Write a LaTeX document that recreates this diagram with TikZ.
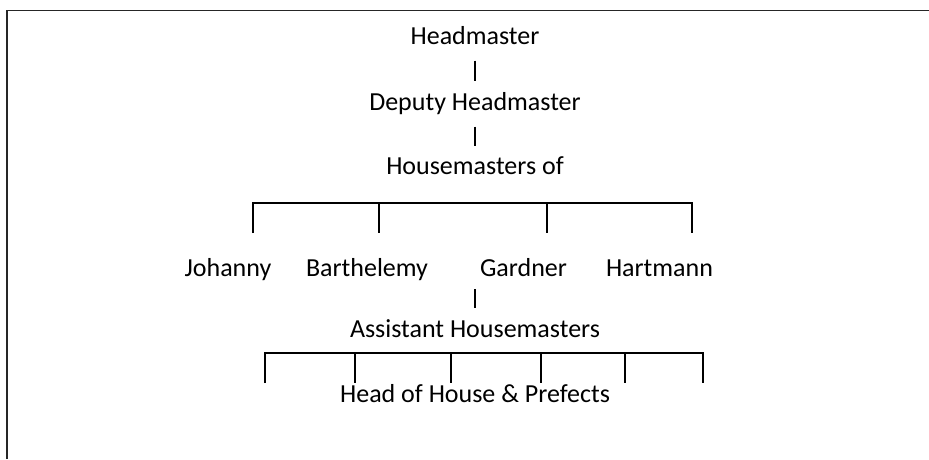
\documentclass[tikz,border=0pt]{standalone}
\usepackage{fontspec}
\setmainfont{Carlito}
\usepackage{tikz}
\usetikzlibrary{calc}

\begin{document}
\begin{tikzpicture}[x=1pt,y=-1pt,font=\fontsize{26}{30}\selectfont]
		\tikzstyle{post}=[inner sep=0pt,text height=19.5pt,text depth=6.5pt];
		\tikzstyle{vbar}=[line width=1.3pt,shorten <=10pt,shorten >=9.5pt];
		\tikzstyle{bracket}=[line width=1.4pt];
		\useasboundingbox(0,0)rectangle(929,459);
		\draw[black!85,line width=1.6pt](7,459)--(7,10.5)--(929,10.5);

		\node[post](head) at (475,37.5){Headmaster};
		\node[post,node distance=66pt,below of=head](deputy){Deputy Headmaster};
		\node[post,node distance=64pt,below of=deputy](hmof){Housemasters of};
		\draw[vbar](head)--(deputy);
		\draw[vbar,shorten >=8.5pt](deputy)--(hmof);

		\node[post](gardner) at (523.5,270){Gardner};
		\node[post,node distance=156.5pt,left of=gardner](barth){Barthelemy};
		\node[post,node distance=139pt,left of=barth](johanny){Johanny};
		\node[post,node distance=136pt,right of=gardner](hartmann){Hartmann};

		\coordinate(hm-l) at (253,233);
		\coordinate(hm-r) at (692,233);
		\draw[bracket](hm-l)--++(0,-30)-|(hm-r);
		\foreach \x in {379,547} \draw[bracket](\x,203)--(\x,233);

		\node[post,node distance=163pt,below of=hmof](assist){Assistant Housemasters};
		\draw[vbar,shorten <=6pt,shorten >=9pt](gardner.south-|assist)--(assist.north);

		\node[post,node distance=65.5pt,below of=assist](hoh){Head of House \& Prefects};
		\coordinate(hp-l) at (265,383);
		\coordinate(hp-r) at (703,383);
		\draw[bracket](hp-l)--++(0,-30)-|(hp-r);
		\foreach \x in {355,451,541,625} \draw[bracket](\x,353)--(\x,383);
	\end{tikzpicture}
\end{document}
